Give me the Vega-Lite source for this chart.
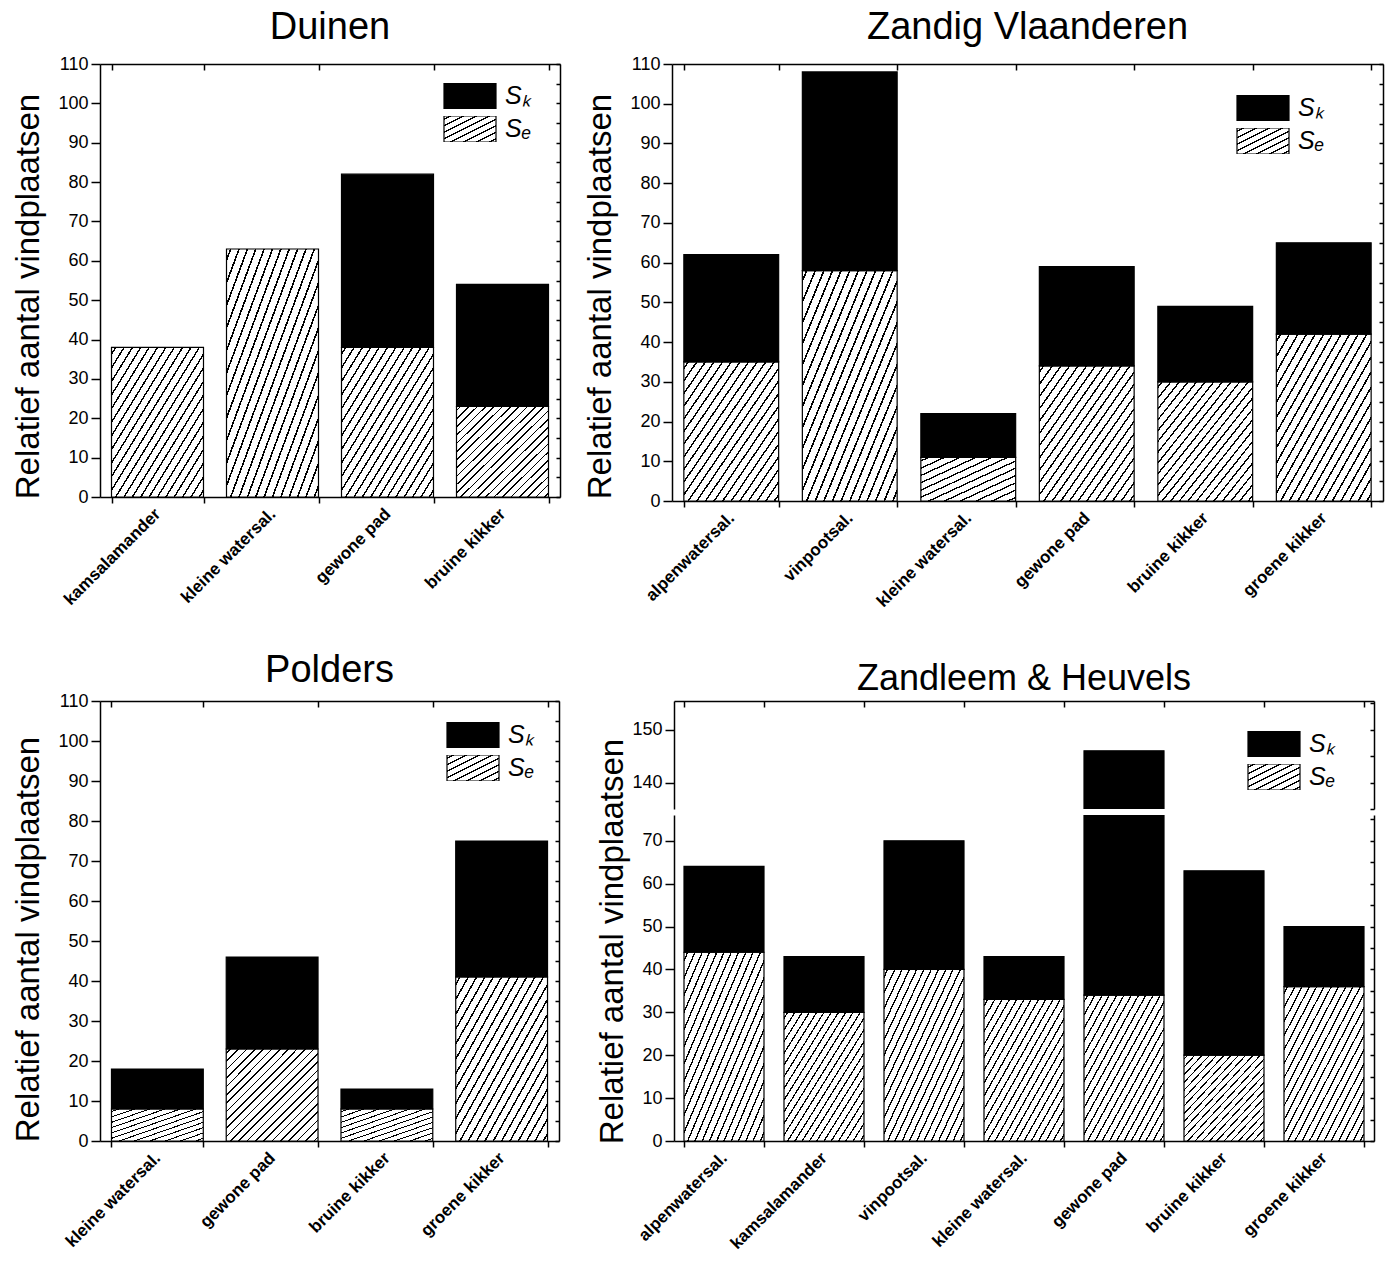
{
  "$schema": "https://vega.github.io/schema/vega-lite/v6.json",
  "background": "white",
  "padding": {"left": 12, "top": 9, "right": 5, "bottom": 5},
  "params": [
    {"name": "hatch", "expr": "{gradient:'linear',x1:0,y1:0,x2:1,y2:1,stops:[{offset:0,color:'#fff'},{offset:0.0182,color:'#fff'},{offset:0.0182,color:'#000'},{offset:0.0273,color:'#000'},{offset:0.0273,color:'#fff'},{offset:0.0636,color:'#fff'},{offset:0.0636,color:'#000'},{offset:0.0727,color:'#000'},{offset:0.0727,color:'#fff'},{offset:0.1091,color:'#fff'},{offset:0.1091,color:'#000'},{offset:0.1182,color:'#000'},{offset:0.1182,color:'#fff'},{offset:0.1545,color:'#fff'},{offset:0.1545,color:'#000'},{offset:0.1636,color:'#000'},{offset:0.1636,color:'#fff'},{offset:0.2,color:'#fff'},{offset:0.2,color:'#000'},{offset:0.2091,color:'#000'},{offset:0.2091,color:'#fff'},{offset:0.2455,color:'#fff'},{offset:0.2455,color:'#000'},{offset:0.2545,color:'#000'},{offset:0.2545,color:'#fff'},{offset:0.2909,color:'#fff'},{offset:0.2909,color:'#000'},{offset:0.3,color:'#000'},{offset:0.3,color:'#fff'},{offset:0.3364,color:'#fff'},{offset:0.3364,color:'#000'},{offset:0.3455,color:'#000'},{offset:0.3455,color:'#fff'},{offset:0.3818,color:'#fff'},{offset:0.3818,color:'#000'},{offset:0.3909,color:'#000'},{offset:0.3909,color:'#fff'},{offset:0.4273,color:'#fff'},{offset:0.4273,color:'#000'},{offset:0.4364,color:'#000'},{offset:0.4364,color:'#fff'},{offset:0.4727,color:'#fff'},{offset:0.4727,color:'#000'},{offset:0.4818,color:'#000'},{offset:0.4818,color:'#fff'},{offset:0.5182,color:'#fff'},{offset:0.5182,color:'#000'},{offset:0.5273,color:'#000'},{offset:0.5273,color:'#fff'},{offset:0.5636,color:'#fff'},{offset:0.5636,color:'#000'},{offset:0.5727,color:'#000'},{offset:0.5727,color:'#fff'},{offset:0.6091,color:'#fff'},{offset:0.6091,color:'#000'},{offset:0.6182,color:'#000'},{offset:0.6182,color:'#fff'},{offset:0.6545,color:'#fff'},{offset:0.6545,color:'#000'},{offset:0.6636,color:'#000'},{offset:0.6636,color:'#fff'},{offset:0.7,color:'#fff'},{offset:0.7,color:'#000'},{offset:0.7091,color:'#000'},{offset:0.7091,color:'#fff'},{offset:0.7455,color:'#fff'},{offset:0.7455,color:'#000'},{offset:0.7545,color:'#000'},{offset:0.7545,color:'#fff'},{offset:0.7909,color:'#fff'},{offset:0.7909,color:'#000'},{offset:0.8,color:'#000'},{offset:0.8,color:'#fff'},{offset:0.8364,color:'#fff'},{offset:0.8364,color:'#000'},{offset:0.8455,color:'#000'},{offset:0.8455,color:'#fff'},{offset:0.8818,color:'#fff'},{offset:0.8818,color:'#000'},{offset:0.8909,color:'#000'},{offset:0.8909,color:'#fff'},{offset:0.9273,color:'#fff'},{offset:0.9273,color:'#000'},{offset:0.9364,color:'#000'},{offset:0.9364,color:'#fff'},{offset:0.9727,color:'#fff'},{offset:0.9727,color:'#000'},{offset:0.9818,color:'#000'},{offset:0.9818,color:'#fff'},{offset:1,color:'#fff'}]}"},
    {"name": "hatchS", "expr": "{gradient:'linear',x1:0,y1:0,x2:1,y2:1,stops:[{offset:0,color:'#fff'},{offset:0.0333,color:'#fff'},{offset:0.0333,color:'#000'},{offset:0.05,color:'#000'},{offset:0.05,color:'#fff'},{offset:0.1167,color:'#fff'},{offset:0.1167,color:'#000'},{offset:0.1333,color:'#000'},{offset:0.1333,color:'#fff'},{offset:0.2,color:'#fff'},{offset:0.2,color:'#000'},{offset:0.2167,color:'#000'},{offset:0.2167,color:'#fff'},{offset:0.2833,color:'#fff'},{offset:0.2833,color:'#000'},{offset:0.3,color:'#000'},{offset:0.3,color:'#fff'},{offset:0.3667,color:'#fff'},{offset:0.3667,color:'#000'},{offset:0.3833,color:'#000'},{offset:0.3833,color:'#fff'},{offset:0.45,color:'#fff'},{offset:0.45,color:'#000'},{offset:0.4667,color:'#000'},{offset:0.4667,color:'#fff'},{offset:0.5333,color:'#fff'},{offset:0.5333,color:'#000'},{offset:0.55,color:'#000'},{offset:0.55,color:'#fff'},{offset:0.6167,color:'#fff'},{offset:0.6167,color:'#000'},{offset:0.6333,color:'#000'},{offset:0.6333,color:'#fff'},{offset:0.7,color:'#fff'},{offset:0.7,color:'#000'},{offset:0.7167,color:'#000'},{offset:0.7167,color:'#fff'},{offset:0.7833,color:'#fff'},{offset:0.7833,color:'#000'},{offset:0.8,color:'#000'},{offset:0.8,color:'#fff'},{offset:0.8667,color:'#fff'},{offset:0.8667,color:'#000'},{offset:0.8833,color:'#000'},{offset:0.8833,color:'#fff'},{offset:0.95,color:'#fff'},{offset:0.95,color:'#000'},{offset:0.9667,color:'#000'},{offset:0.9667,color:'#fff'},{offset:1,color:'#fff'}]}"},
    {"name": "hatchL", "expr": "{gradient:'linear',x1:0,y1:0,x2:1,y2:1,stops:[{offset:0,color:'#fff'},{offset:0.05,color:'#fff'},{offset:0.05,color:'#000'},{offset:0.075,color:'#000'},{offset:0.075,color:'#fff'},{offset:0.175,color:'#fff'},{offset:0.175,color:'#000'},{offset:0.2,color:'#000'},{offset:0.2,color:'#fff'},{offset:0.3,color:'#fff'},{offset:0.3,color:'#000'},{offset:0.325,color:'#000'},{offset:0.325,color:'#fff'},{offset:0.425,color:'#fff'},{offset:0.425,color:'#000'},{offset:0.45,color:'#000'},{offset:0.45,color:'#fff'},{offset:0.55,color:'#fff'},{offset:0.55,color:'#000'},{offset:0.575,color:'#000'},{offset:0.575,color:'#fff'},{offset:0.675,color:'#fff'},{offset:0.675,color:'#000'},{offset:0.7,color:'#000'},{offset:0.7,color:'#fff'},{offset:0.8,color:'#fff'},{offset:0.8,color:'#000'},{offset:0.825,color:'#000'},{offset:0.825,color:'#fff'},{offset:0.925,color:'#fff'},{offset:0.925,color:'#000'},{offset:0.95,color:'#000'},{offset:0.95,color:'#fff'},{offset:1,color:'#fff'}]}"}
  ],
  "config": {
    "font": "Liberation Sans",
    "view": {"stroke": null},
    "title": {"fontSize": 38, "fontWeight": "normal", "font": "Liberation Sans", "color": "black", "anchor": "middle", "frame": "group", "offset": 8},
    "axis": {"domainColor": "black", "domainWidth": 1.5, "tickColor": "black", "tickWidth": 1.5, "labelColor": "black", "titleColor": "black", "grid": false, "labelFont": "Liberation Sans", "titleFont": "Liberation Sans", "labelFlush": false, "labelOverlap": false},
    "legend": {"title": null, "orient": "none", "padding": 0, "symbolType": "M-1,-0.5H1V0.5H-1Z", "symbolSize": 2704, "clipHeight": 26, "symbolStrokeColor": "black", "symbolStrokeWidth": 1.2, "labelFontSize": 25, "labelFontStyle": "italic", "labelFont": "Liberation Sans", "labelColor": "black", "labelOffset": 8, "rowPadding": 7},
    "bar": {"stroke": "black", "strokeWidth": 1.2}
  },
  "datasets": {
    "duinen": [
      {"species": "kamsalamander", "type": "Sₑ", "value": 38},
      {"species": "kleine watersal.", "type": "Sₑ", "value": 63},
      {"species": "gewone pad", "type": "Sₑ", "value": 38},
      {"species": "gewone pad", "type": "Sₖ", "value": 44},
      {"species": "bruine kikker", "type": "Sₑ", "value": 23},
      {"species": "bruine kikker", "type": "Sₖ", "value": 31}
    ],
    "zandig": [
      {"species": "alpenwatersal.", "type": "Sₑ", "value": 35},
      {"species": "alpenwatersal.", "type": "Sₖ", "value": 27},
      {"species": "vinpootsal.", "type": "Sₑ", "value": 58},
      {"species": "vinpootsal.", "type": "Sₖ", "value": 50},
      {"species": "kleine watersal.", "type": "Sₑ", "value": 11},
      {"species": "kleine watersal.", "type": "Sₖ", "value": 11},
      {"species": "gewone pad", "type": "Sₑ", "value": 34},
      {"species": "gewone pad", "type": "Sₖ", "value": 25},
      {"species": "bruine kikker", "type": "Sₑ", "value": 30},
      {"species": "bruine kikker", "type": "Sₖ", "value": 19},
      {"species": "groene kikker", "type": "Sₑ", "value": 42},
      {"species": "groene kikker", "type": "Sₖ", "value": 23}
    ],
    "polders": [
      {"species": "kleine watersal.", "type": "Sₑ", "value": 8},
      {"species": "kleine watersal.", "type": "Sₖ", "value": 10},
      {"species": "gewone pad", "type": "Sₑ", "value": 23},
      {"species": "gewone pad", "type": "Sₖ", "value": 23},
      {"species": "bruine kikker", "type": "Sₑ", "value": 8},
      {"species": "bruine kikker", "type": "Sₖ", "value": 5},
      {"species": "groene kikker", "type": "Sₑ", "value": 41},
      {"species": "groene kikker", "type": "Sₖ", "value": 34}
    ],
    "zandleem": [
      {"species": "alpenwatersal.", "type": "Sₑ", "value": 44},
      {"species": "alpenwatersal.", "type": "Sₖ", "value": 20},
      {"species": "kamsalamander", "type": "Sₑ", "value": 30},
      {"species": "kamsalamander", "type": "Sₖ", "value": 13},
      {"species": "vinpootsal.", "type": "Sₑ", "value": 40},
      {"species": "vinpootsal.", "type": "Sₖ", "value": 30},
      {"species": "kleine watersal.", "type": "Sₑ", "value": 33},
      {"species": "kleine watersal.", "type": "Sₖ", "value": 10},
      {"species": "gewone pad", "type": "Sₑ", "value": 34},
      {"species": "gewone pad", "type": "Sₖ", "value": 112},
      {"species": "bruine kikker", "type": "Sₑ", "value": 20},
      {"species": "bruine kikker", "type": "Sₖ", "value": 43},
      {"species": "groene kikker", "type": "Sₑ", "value": 36},
      {"species": "groene kikker", "type": "Sₖ", "value": 14}
    ]
  },
  "resolve": {"scale": {"fill": "independent"}, "legend": {"fill": "independent"}},
  "spacing": 42,
  "vconcat": [
    {
      "hconcat": [
        {
          "title": "Duinen",
          "width": 460, "height": 433,
          "data": {"name": "duinen"},
          "layer": [
            {
              "mark": {"type": "bar"},
              "encoding": {
                "x": {"field": "species", "type": "nominal", "sort": null, "scale": {"paddingInner": 0.2, "paddingOuter": 0.1},
                      "axis": {"title": null, "orient": "bottom", "labelAngle": -45, "labelAlign": "right", "labelBaseline": "middle", "labelFontWeight": "bold", "labelFontSize": 17, "labelPadding": 8, "tickBand": "extent", "tickSize": 6}},
                "y": {"field": "value", "type": "quantitative", "stack": "zero", "scale": {"domain": [0, 110], "nice": false},
                      "axis": {"title": "Relatief aantal vindplaatsen", "values": [0,10,20,30,40,50,60,70,80,90,100,110], "tickSize": 9, "labelFontSize": 18, "labelPadding": 3, "titleFontSize": 33, "titleFontWeight": "normal", "titlePadding": 12, "titleY": 232}},
                "fill": {"field": "type", "type": "nominal", "scale": {"domain": ["Sₖ", "Sₑ"], "range": ["black", {"expr": "hatchL"}]},
                         "legend": {"orient": "none", "legendX": 343, "legendY": 19},
                         "condition": [{"test": "datum.type !== 'Sₖ' && datum.value < 15", "value": {"expr": "hatchS"}}, {"test": "datum.type !== 'Sₖ'", "value": {"expr": "hatch"}}]},
                "order": {"field": "type", "sort": "ascending"}
              }
            },
            {
              "mark": {"type": "bar", "opacity": 0},
              "encoding": {
                "x": {"field": "species", "type": "nominal", "sort": null, "axis": {"title": null, "orient": "top", "labels": false, "tickBand": "extent", "tickSize": -6}},
                "y": {"field": "value", "type": "quantitative", "stack": null, "axis": {"title": null, "orient": "right", "labels": false, "values": [0,5,10,15,20,25,30,35,40,45,50,55,60,65,70,75,80,85,90,95,100,105,110], "tickSize": -4}}
              }
            }
          ],
          "resolve": {"axis": {"x": "independent", "y": "independent"}}
        },
        {
          "title": "Zandig Vlaanderen",
          "width": 711, "height": 437,
          "data": {"name": "zandig"},
          "layer": [
            {
              "mark": {"type": "bar"},
              "encoding": {
                "x": {"field": "species", "type": "nominal", "sort": null, "scale": {"paddingInner": 0.2, "paddingOuter": 0.1},
                      "axis": {"title": null, "orient": "bottom", "labelAngle": -45, "labelAlign": "right", "labelBaseline": "middle", "labelFontWeight": "bold", "labelFontSize": 17, "labelPadding": 8, "tickBand": "extent", "tickSize": 6}},
                "y": {"field": "value", "type": "quantitative", "stack": "zero", "scale": {"domain": [0, 110], "nice": false},
                      "axis": {"title": "Relatief aantal vindplaatsen", "values": [0,10,20,30,40,50,60,70,80,90,100,110], "tickSize": 9, "labelFontSize": 18, "labelPadding": 3, "titleFontSize": 33, "titleFontWeight": "normal", "titlePadding": 12, "titleY": 232}},
                "fill": {"field": "type", "type": "nominal", "scale": {"domain": ["Sₖ", "Sₑ"], "range": ["black", {"expr": "hatchL"}]},
                         "legend": {"orient": "none", "legendX": 564, "legendY": 31},
                         "condition": [{"test": "datum.type !== 'Sₖ' && datum.value < 15", "value": {"expr": "hatchS"}}, {"test": "datum.type !== 'Sₖ'", "value": {"expr": "hatch"}}]},
                "order": {"field": "type", "sort": "ascending"}
              }
            },
            {
              "mark": {"type": "bar", "opacity": 0},
              "encoding": {
                "x": {"field": "species", "type": "nominal", "sort": null, "axis": {"title": null, "orient": "top", "labels": false, "tickBand": "extent", "tickSize": -6}},
                "y": {"field": "value", "type": "quantitative", "stack": null, "axis": {"title": null, "orient": "right", "labels": false, "values": [0,5,10,15,20,25,30,35,40,45,50,55,60,65,70,75,80,85,90,95,100,105,110], "tickSize": -4}}
              }
            }
          ],
          "resolve": {"axis": {"x": "independent", "y": "independent"}}
        }
      ],
      "spacing": 23,
      "resolve": {"scale": {"fill": "independent"}, "legend": {"fill": "independent"}}
    },
    {
      "hconcat": [
        {
          "title": {"text": "Polders", "offset": 2},
          "width": 459, "height": 440,
          "data": {"name": "polders"},
          "layer": [
            {
              "mark": {"type": "bar"},
              "encoding": {
                "x": {"field": "species", "type": "nominal", "sort": null, "scale": {"paddingInner": 0.2, "paddingOuter": 0.1},
                      "axis": {"title": null, "orient": "bottom", "labelAngle": -45, "labelAlign": "right", "labelBaseline": "middle", "labelFontWeight": "bold", "labelFontSize": 17, "labelPadding": 8, "tickBand": "extent", "tickSize": 6}},
                "y": {"field": "value", "type": "quantitative", "stack": "zero", "scale": {"domain": [0, 110], "nice": false},
                      "axis": {"title": "Relatief aantal vindplaatsen", "values": [0,10,20,30,40,50,60,70,80,90,100,110], "tickSize": 9, "labelFontSize": 18, "labelPadding": 3, "titleFontSize": 33, "titleFontWeight": "normal", "titlePadding": 12, "titleY": 238}},
                "fill": {"field": "type", "type": "nominal", "scale": {"domain": ["Sₖ", "Sₑ"], "range": ["black", {"expr": "hatchL"}]},
                         "legend": {"orient": "none", "legendX": 346, "legendY": 21},
                         "condition": [{"test": "datum.type !== 'Sₖ' && datum.value < 15", "value": {"expr": "hatchS"}}, {"test": "datum.type !== 'Sₖ'", "value": {"expr": "hatch"}}]},
                "order": {"field": "type", "sort": "ascending"}
              }
            },
            {
              "mark": {"type": "bar", "opacity": 0},
              "encoding": {
                "x": {"field": "species", "type": "nominal", "sort": null, "axis": {"title": null, "orient": "top", "labels": false, "tickBand": "extent", "tickSize": -6}},
                "y": {"field": "value", "type": "quantitative", "stack": null, "axis": {"title": null, "orient": "right", "labels": false, "values": [0,5,10,15,20,25,30,35,40,45,50,55,60,65,70,75,80,85,90,95,100,105,110], "tickSize": -4}}
              }
            }
          ],
          "resolve": {"axis": {"x": "independent", "y": "independent"}}
        },
        {
          "spacing": 6,
          "bounds": "flush",
          "resolve": {"scale": {"fill": "independent"}, "legend": {"fill": "independent"}},
          "vconcat": [
            {
              "title": {"text": "Zandleem & Heuvels", "offset": 2, "fontSize": 36},
              "width": 700, "height": 108,
              "data": {"name": "zandleem"},
              "layer": [
                {
                  "mark": {"type": "bar", "clip": true},
                  "encoding": {
                    "x": {"field": "species", "type": "nominal", "sort": null, "scale": {"paddingInner": 0.2, "paddingOuter": 0.1}, "axis": null},
                    "y": {"field": "value", "type": "quantitative", "stack": "zero", "scale": {"domain": [135, 155.4], "nice": false, "zero": false},
                          "axis": {"title": null, "values": [140, 150], "tickSize": 9, "labelFontSize": 18, "labelPadding": 3}},
                    "fill": {"field": "type", "type": "nominal", "scale": {"domain": ["Sₖ", "Sₑ"], "range": ["black", {"expr": "hatchL"}]},
                             "legend": {"orient": "none", "legendX": 573, "legendY": 30},
                             "condition": [{"test": "datum.type !== 'Sₖ' && datum.value < 15", "value": {"expr": "hatchS"}}, {"test": "datum.type !== 'Sₖ'", "value": {"expr": "hatch"}}]},
                    "order": {"field": "type", "sort": "ascending"}
                  }
                },
                {
                  "mark": {"type": "bar", "opacity": 0, "clip": true},
                  "encoding": {
                    "x": {"field": "species", "type": "nominal", "sort": null, "axis": {"title": null, "orient": "top", "labels": false, "tickBand": "extent", "tickSize": -6}},
                    "y": {"field": "value", "type": "quantitative", "stack": null, "axis": {"title": null, "orient": "right", "labels": false, "values": [135, 140, 145, 150, 155], "tickSize": -4}}
                  }
                }
              ],
              "resolve": {"axis": {"x": "independent", "y": "independent"}}
            },
            {
              "width": 700, "height": 326,
              "data": {"name": "zandleem"},
              "layer": [
                {
                  "mark": {"type": "bar", "clip": true},
                  "encoding": {
                    "x": {"field": "species", "type": "nominal", "sort": null, "scale": {"paddingInner": 0.2, "paddingOuter": 0.1},
                          "axis": {"title": null, "orient": "bottom", "labelAngle": -45, "labelAlign": "right", "labelBaseline": "middle", "labelFontWeight": "bold", "labelFontSize": 17, "labelPadding": 8, "tickBand": "extent", "tickSize": 6}},
                    "y": {"field": "value", "type": "quantitative", "stack": "zero", "scale": {"domain": [0, 76], "nice": false},
                          "axis": {"title": "Relatief aantal vindplaatsen", "values": [0,10,20,30,40,50,60,70], "tickSize": 9, "labelFontSize": 18, "labelPadding": 3, "titleFontSize": 33, "titleFontWeight": "normal", "titlePadding": 12, "titleY": 126}},
                    "fill": {"field": "type", "type": "nominal", "scale": {"domain": ["Sₖ", "Sₑ"], "range": ["black", {"expr": "hatchL"}]}, "legend": null,
                             "condition": [{"test": "datum.type !== 'Sₖ' && datum.value < 15", "value": {"expr": "hatchS"}}, {"test": "datum.type !== 'Sₖ'", "value": {"expr": "hatch"}}]},
                    "order": {"field": "type", "sort": "ascending"}
                  }
                },
                {
                  "mark": {"type": "bar", "opacity": 0, "clip": true},
                  "encoding": {
                    "x": {"field": "species", "type": "nominal", "sort": null, "axis": null},
                    "y": {"field": "value", "type": "quantitative", "stack": null, "axis": {"title": null, "orient": "right", "labels": false, "values": [0,5,10,15,20,25,30,35,40,45,50,55,60,65,70,75], "tickSize": -4}}
                  }
                }
              ],
              "resolve": {"axis": {"x": "independent", "y": "independent"}}
            }
          ]
        }
      ],
      "spacing": 36,
      "resolve": {"scale": {"fill": "independent"}, "legend": {"fill": "independent"}}
    }
  ]
}
